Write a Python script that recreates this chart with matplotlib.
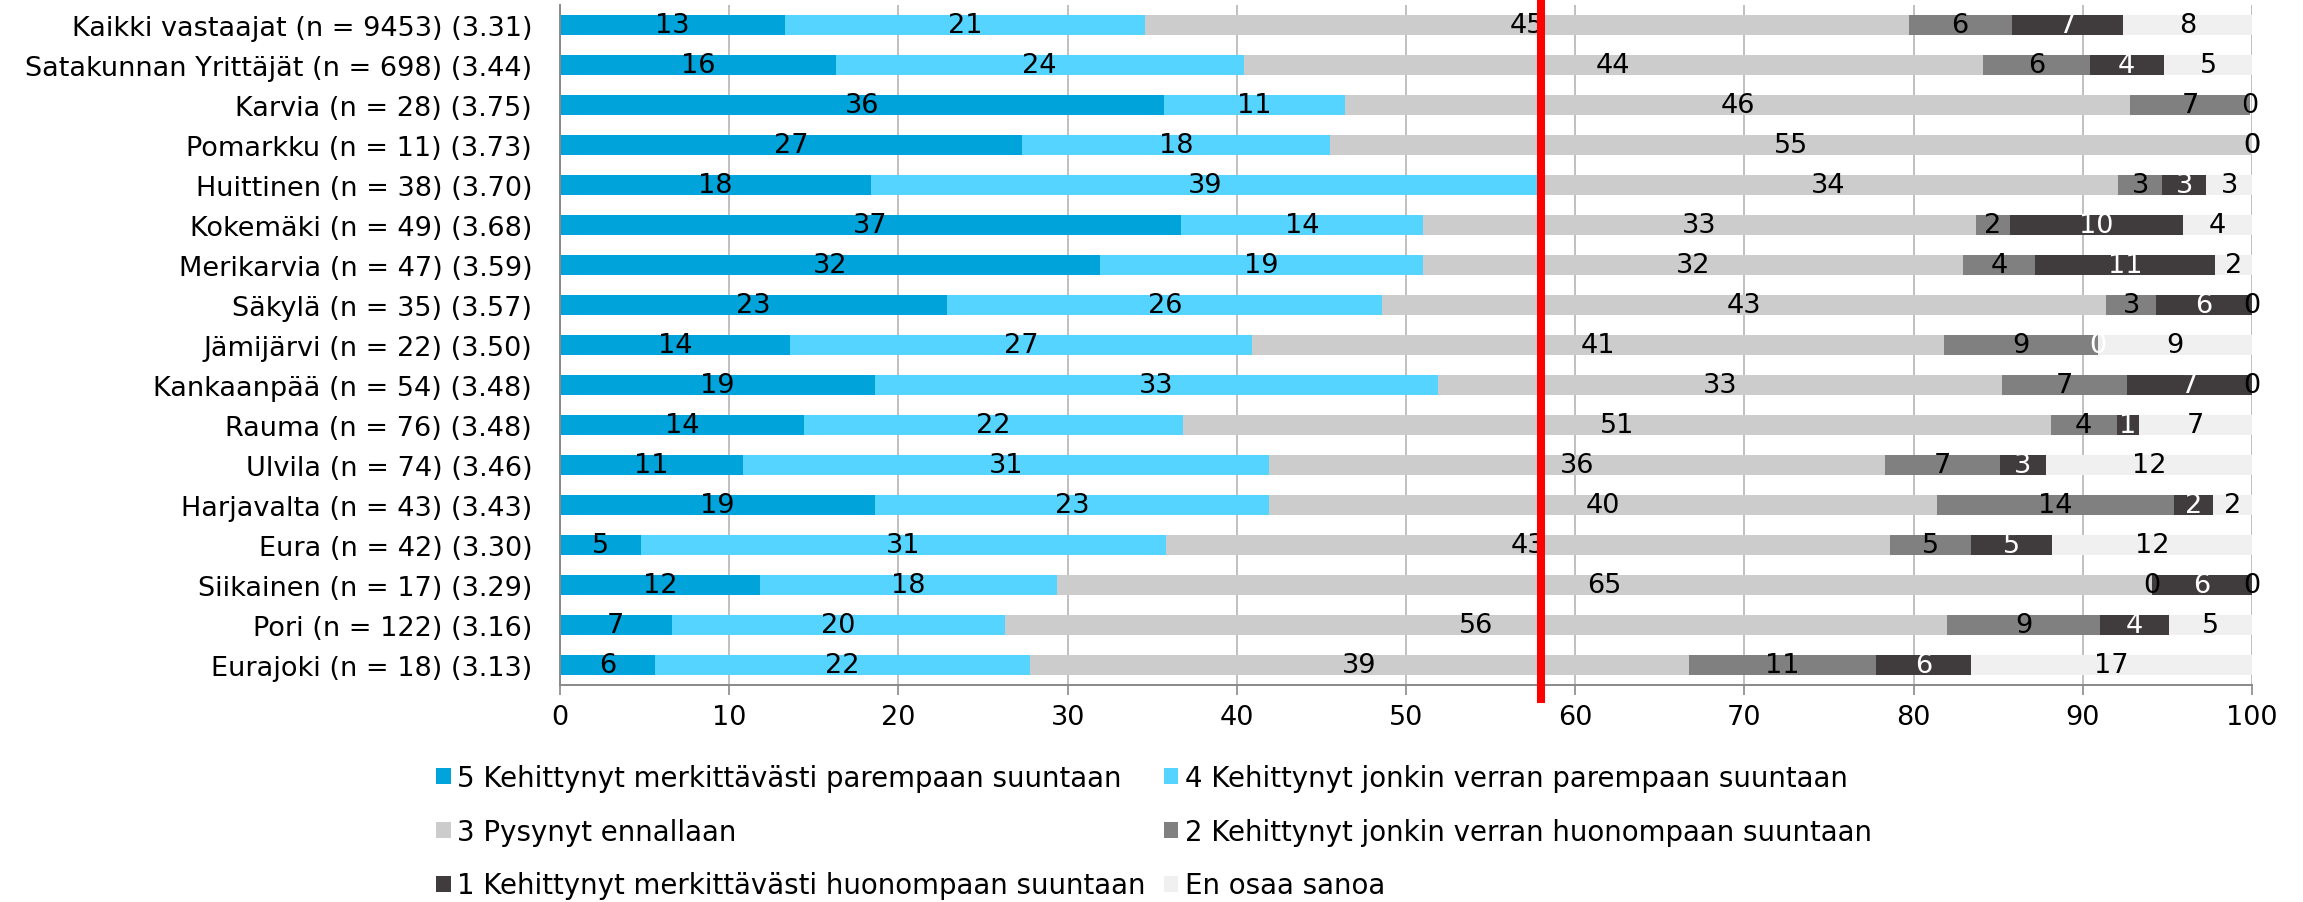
import math
import matplotlib
matplotlib.use("Agg")
import matplotlib.pyplot as plt
from matplotlib.patches import Patch

plt.rcParams['font.family'] = ['DejaVu Sans']
FS = 19.5

categories = [
    "Kaikki vastaajat (n = 9453) (3.31)",
    "Satakunnan Yrittäjät (n = 698) (3.44)",
    "Karvia (n = 28) (3.75)",
    "Pomarkku (n = 11) (3.73)",
    "Huittinen (n = 38) (3.70)",
    "Kokemäki (n = 49) (3.68)",
    "Merikarvia (n = 47) (3.59)",
    "Säkylä (n = 35) (3.57)",
    "Jämijärvi (n = 22) (3.50)",
    "Kankaanpää (n = 54) (3.48)",
    "Rauma (n = 76) (3.48)",
    "Ulvila (n = 74) (3.46)",
    "Harjavalta (n = 43) (3.43)",
    "Eura (n = 42) (3.30)",
    "Siikainen (n = 17) (3.29)",
    "Pori (n = 122) (3.16)",
    "Eurajoki (n = 18) (3.13)",
]

s5 = [13.3, 16.3, 35.7, 27.3, 18.4, 36.7, 31.9, 22.9, 13.6, 18.6, 14.4, 10.8, 18.6, 4.8, 11.8, 6.6, 5.6]
s4 = [21.3, 24.1, 10.7, 18.2, 39.4, 14.3, 19.1, 25.7, 27.3, 33.3, 22.4, 31.1, 23.3, 31.0, 17.6, 19.7, 22.2]
s3 = [45.1, 43.7, 46.4, 54.5, 34.3, 32.7, 31.9, 42.8, 40.9, 33.3, 51.3, 36.4, 39.5, 42.8, 64.7, 55.7, 38.9]
s2 = [6.1, 6.3, 7.1, 0.0, 2.6, 2.0, 4.3, 2.9, 9.1, 7.4, 3.9, 6.8, 14.0, 4.8, 0.0, 9.0, 11.1]
s1 = [6.6, 4.4, 0.0, 0.0, 2.6, 10.2, 10.6, 5.7, 0.0, 7.4, 1.3, 2.7, 2.3, 4.8, 5.9, 4.1, 5.6]
s0 = [7.6, 5.2, 0.0, 0.0, 2.7, 4.1, 2.2, 0.0, 9.1, 0.0, 6.7, 12.2, 2.3, 11.8, 0.0, 4.9, 16.6]

series_names = [
    "5 Kehittynyt merkittävästi parempaan suuntaan",
    "4 Kehittynyt jonkin verran parempaan suuntaan",
    "3 Pysynyt ennallaan",
    "2 Kehittynyt jonkin verran huonompaan suuntaan",
    "1 Kehittynyt merkittävästi huonompaan suuntaan",
    "En osaa sanoa",
]
series = [s5, s4, s3, s2, s1, s0]
colors = ["#00A3DA", "#55D4FF", "#CCCCCC", "#808080", "#403C3D", "#F0F0F0"]
label_colors = ["black", "black", "black", "black", "white", "black"]

x_ticks = [0, 10, 20, 30, 40, 50, 60, 70, 80, 90, 100]
REF_LINE = 58

W, H = 2303, 903
fig = plt.figure(figsize=(W / 100, H / 100), dpi=100)
ax = fig.add_axes([560 / W, 1 - 686 / H, (2252 - 560) / W, 680 / H])

ypos = list(range(len(categories)))
left = [0.0] * len(categories)
handles = []
for vals, name, col, lc in zip(series, series_names, colors, label_colors):
    cont = ax.barh(ypos, vals, left=left, height=0.48, color=col, label=name, zorder=2)
    ax.bar_label(cont, labels=[str(int(math.floor(v + 0.5))) for v in vals],
                 label_type='center', color=lc, fontsize=FS, zorder=3,
                 annotation_clip=False)
    left = [round(a + b, 6) for a, b in zip(left, vals)]
    handles.append(Patch(facecolor=col, label=name))

ax.set_ylim(len(categories) - 0.5, -0.5)
ax.set_xlim(0, 100)
ax.set_yticks(ypos)
ax.set_yticklabels(categories, fontsize=FS)
ax.set_xticks(x_ticks)
ax.set_xticklabels([str(t) for t in x_ticks], fontsize=FS)
ax.tick_params(axis='y', length=0, pad=20)
ax.tick_params(axis='x', length=7, width=1.2, color="#898989", pad=7)
ax.grid(axis='x', color="#C0C0C0", linewidth=1.4, zorder=0)
ax.set_axisbelow(True)
for s in ['top', 'right']:
    ax.spines[s].set_visible(False)
for s in ['left', 'bottom']:
    ax.spines[s].set_color("#898989")
    ax.spines[s].set_linewidth(1.4)

ax.axvline(REF_LINE, ymin=(686 - 700) / 680, ymax=686 / 680, color="#FF0000",
           linewidth=5.8, clip_on=False, zorder=5)

order = [0, 2, 4, 1, 3, 5]
fig.legend([handles[i] for i in order], [series_names[i] for i in order],
           ncol=2, loc='upper left', bbox_to_anchor=(436 / W, 1 - 765 / H),
           frameon=False, fontsize=19.9, handlelength=0.525, handleheight=0.525,
           handletextpad=0.25, columnspacing=0.65, labelspacing=0.93,
           borderpad=0, borderaxespad=0)

fig.savefig("out.png", dpi=100)
